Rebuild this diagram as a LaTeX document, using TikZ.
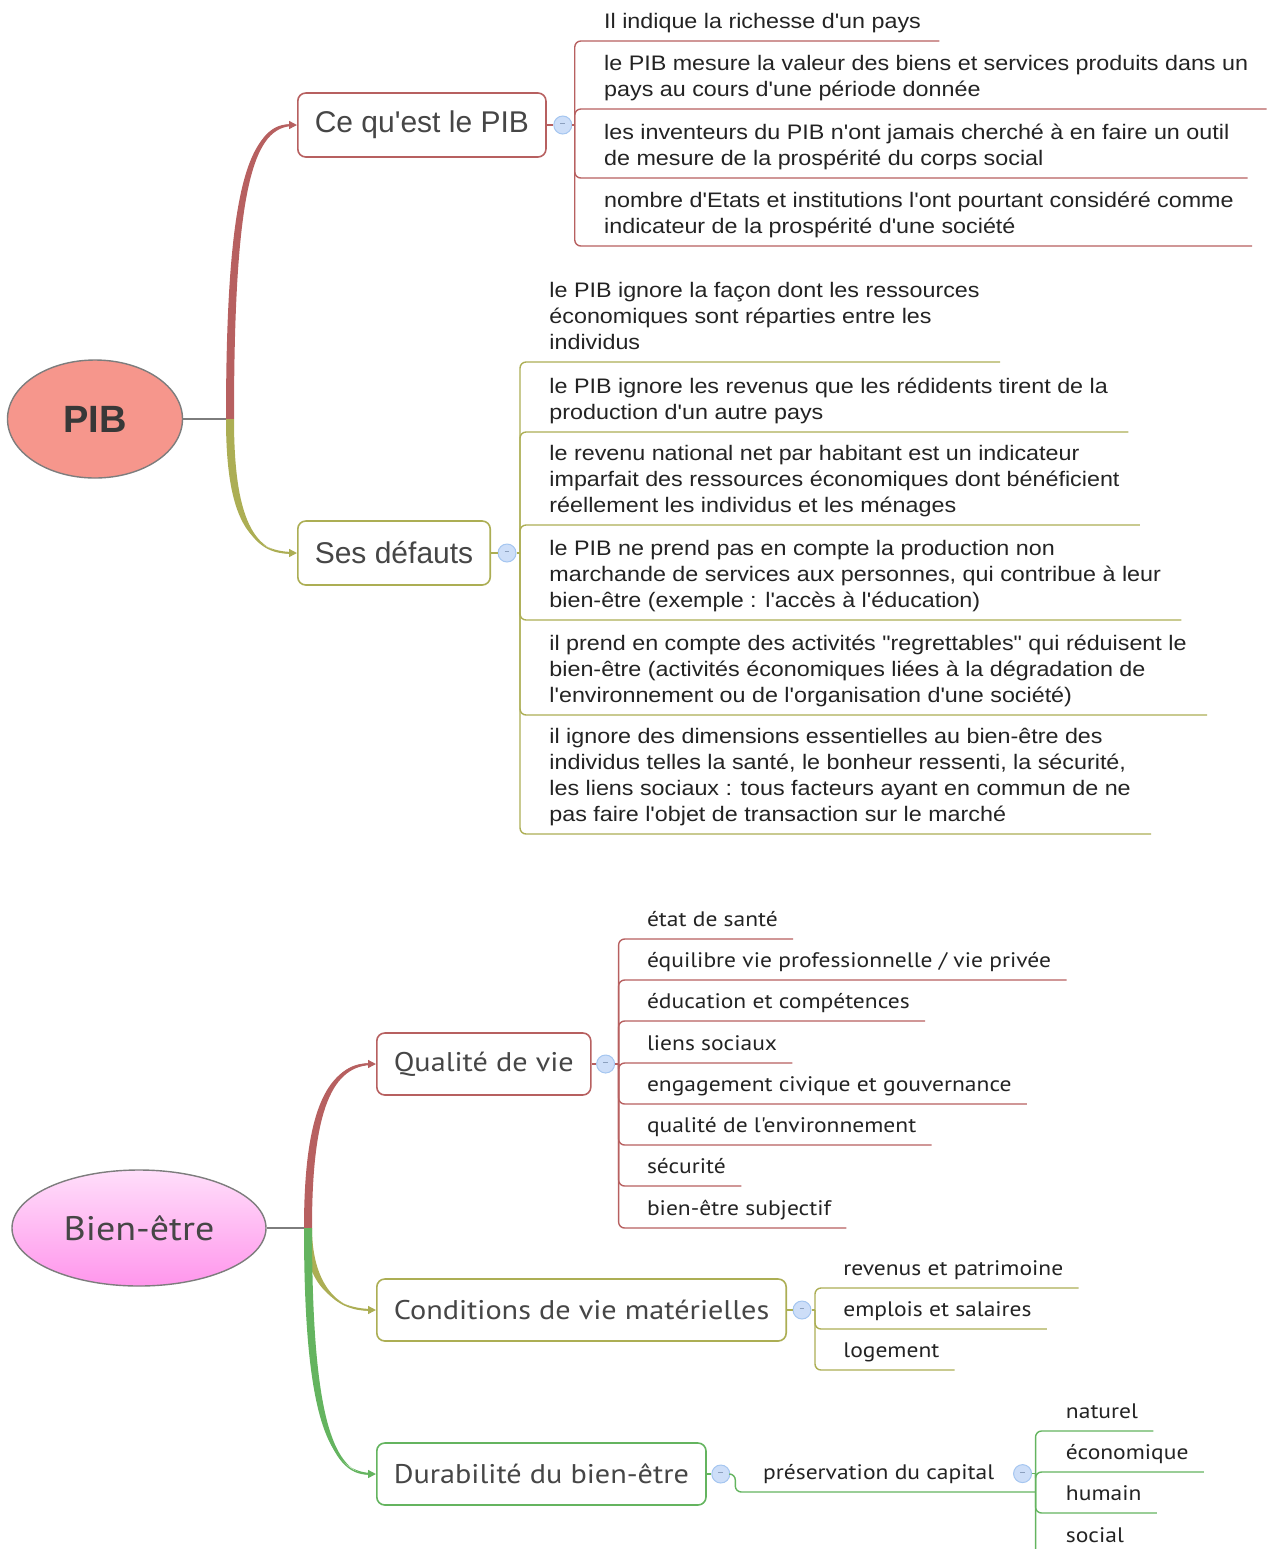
\documentclass[tikz,border=0pt]{standalone}
\usepackage{fontspec}
\setmainfont{Liberation Sans}
\newfontfamily\topicfont{Liberation Sans}
\newfontfamily\notefont[FakeStretch=1.11]{Liberation Sans}
\newfontfamily\leaffont[FakeStretch=1.12]{PT Sans}
\usetikzlibrary{shapes.geometric,arrows.meta,calc}

\definecolor{redb}{RGB}{183,96,96}
\definecolor{oliveb}{RGB}{172,174,84}
\definecolor{greenb}{RGB}{100,180,95}
\definecolor{togfill}{RGB}{205,222,248}
\definecolor{togline}{RGB}{165,198,240}
\definecolor{togdash}{RGB}{140,160,190}
\definecolor{inkgray}{RGB}{70,70,70}
\definecolor{notetext}{RGB}{35,35,35}
\definecolor{rootline}{RGB}{125,125,125}
\definecolor{pibfill}{RGB}{246,150,140}
\definecolor{befilltop}{RGB}{255,222,250}
\definecolor{befillbot}{RGB}{255,150,236}

\newcommand{\togdash}{\textcolor{togdash}{\rule[1.2pt]{2.4pt}{0.4pt}}}

% tapered branch from a hub to the west side of a topic
\newcommand{\mapbranch}[4]{%
  \fill[#1] ([shift={(-4,0)}]#2) .. controls +(0,#4) and +(-45,0) .. ([shift={(-3,-1)}]#3.west)
    -- ([shift={(-3,1)}]#3.west) .. controls +(-40,0) and +(0,#4) .. ([shift={(4,0)}]#2) -- cycle;
  \draw[#1,line width=0.7pt,-{Triangle[length=4pt,width=4pt]}] (#2) .. controls +(0,#4) and +(-45,0) .. (#3.west);}

\begin{document}
\begin{tikzpicture}[x=0.5pt,y=-0.5pt,
  rootnode/.style={ellipse,draw=rootline,line width=0.7pt,inner sep=0pt},
  topic/.style={draw,rounded corners=4pt,line width=0.8pt,fill=white,anchor=west,minimum height=32pt,inner xsep=8.5pt,text=inkgray},
  toggle/.style={circle,draw=togline,fill=togfill,line width=0.5pt,minimum size=9pt,inner sep=0pt},
  note/.style={anchor=south west,inner sep=0pt,align=left,text=notetext,font=\notefont\fontsize{10.5}{13}\selectfont,execute at end node=\strut},
  leaf/.style={anchor=south west,inner sep=0pt,text=notetext,font=\leaffont\fontsize{10.5}{12}\selectfont,execute at end node=\strut},
  link/.style={line width=0.7pt,rounded corners=3pt}]

\useasboundingbox (0,0) rectangle (1273,1549);

% ---------- PIB ----------
\node[rootnode,fill=pibfill,minimum width=87.5pt,minimum height=59pt,font=\topicfont\bfseries\fontsize{19}{19}\selectfont,text=inkgray!80!black] (pib) at (95,419) {PIB};
\coordinate (pib-hub) at (230,419);
\draw[rootline,line width=0.6pt] (pib) -- (pib-hub);

\node[topic,draw=redb,font=\topicfont\fontsize{15}{15}\selectfont] (cq) at (297,125) {Ce qu'est le PIB};
\node[topic,draw=oliveb,font=\topicfont\fontsize{15}{15}\selectfont] (sd) at (297,553) {Ses défauts};
\mapbranch{redb}{pib-hub}{cq}{-235}
\mapbranch{oliveb}{pib-hub}{sd}{100}

\node[toggle] (cq-tog) at ([shift={(16,0)}]cq.east) {\togdash};
\coordinate (cq-hub) at ([shift={(12,0)}]cq-tog.center);
\draw[redb,link] (cq) -- (cq-tog) -- (cq-hub);
\foreach \nm/\uy/\txt in {
  c1/41/{Il indique la richesse d'un pays},
  c2/109/{le PIB mesure la valeur des biens et services produits dans un\\pays au cours d'une période donnée},
  c3/178/{les inventeurs du PIB n'ont jamais cherché à en faire un outil\\de mesure de la prospérité du corps social},
  c4/246/{nombre d'Etats et institutions l'ont pourtant considéré comme\\indicateur de la prospérité d'une société}}{
  \node[note] (\nm) at ($(cq-hub |- 0,\uy)+(29,-4)$) {\txt};
  \draw[redb,link] (cq-hub) |- ([shift={(18,4)}]\nm.south east);
}

\node[toggle] (sd-tog) at ([shift={(16,0)}]sd.east) {\togdash};
\coordinate (sd-hub) at ([shift={(13,0)}]sd-tog.center);
\draw[oliveb,link] (sd) -- (sd-tog) -- (sd-hub);
\foreach \nm/\uy/\txt in {
  d1/362/{le PIB ignore la façon dont les ressources\\économiques  sont réparties entre les\\individus},
  d2/432/{le PIB ignore les revenus que les rédidents tirent de la\\production d'un autre pays},
  d3/525/{le revenu national net par habitant est un indicateur\\imparfait des ressources économiques dont bénéficient\\réellement les individus et les ménages},
  d4/620/{le PIB ne prend pas en compte la production non\\marchande de services aux personnes, qui contribue à leur\\bien-être (exemple : l'accès à l'éducation)},
  d5/715/{il prend en compte des activités "regrettables" qui réduisent le\\bien-être (activités économiques liées à la dégradation de\\l'environnement ou de l'organisation d'une société)},
  d6/834/{il ignore des dimensions essentielles au bien-être des\\individus telles la santé, le bonheur ressenti, la sécurité,\\les liens sociaux : tous facteurs ayant en commun de ne\\pas faire l'objet de transaction sur le marché}}{
  \node[note] (\nm) at ($(sd-hub |- 0,\uy)+(29,-4)$) {\txt};
  \draw[oliveb,link] (sd-hub) |- ([shift={(20,4)}]\nm.south east);
}

% ---------- Bien-etre ----------
\node[rootnode,top color=befilltop,bottom color=befillbot,minimum width=127pt,minimum height=58pt,font=\leaffont\fontsize{17}{17}\selectfont,text=inkgray] (be) at (139,1228) {Bien-être};
\coordinate (be-hub) at (308,1228);
\draw[rootline,line width=0.6pt] (be) -- (be-hub);

\node[topic,draw=redb,minimum height=31pt,font=\leaffont\fontsize{13.5}{14}\selectfont] (qv) at (376,1064) {Qualité de vie};
\node[topic,draw=oliveb,minimum height=31pt,font=\leaffont\fontsize{13.5}{14}\selectfont] (cm) at (376,1310) {Conditions de vie matérielles};
\node[topic,draw=greenb,minimum height=31pt,font=\leaffont\fontsize{13.5}{14}\selectfont] (db) at (376,1474) {Durabilité du bien-être};
\mapbranch{redb}{be-hub}{qv}{-120}
\mapbranch{oliveb}{be-hub}{cm}{50}
\mapbranch{greenb}{be-hub}{db}{190}

\node[toggle] (qv-tog) at ([shift={(14,0)}]qv.east) {\togdash};
\coordinate (qv-hub) at ([shift={(13,0)}]qv-tog.center);
\draw[redb,link] (qv) -- (qv-tog) -- (qv-hub);
\foreach \nm/\uy/\txt in {
  q1/939/{état de santé},
  q2/980/{équilibre vie professionnelle / vie privée},
  q3/1021/{éducation et compétences},
  q4/1063/{liens sociaux},
  q5/1104/{engagement civique et gouvernance},
  q6/1145/{qualité de l'environnement},
  q7/1186/{sécurité},
  q8/1228/{bien-être subjectif}}{
  \node[leaf] (\nm) at ($(qv-hub |- 0,\uy)+(28,-5)$) {\txt};
  \draw[redb,link] (qv-hub) |- ([shift={(15,5)}]\nm.south east);
}

\node[toggle] (cm-tog) at ([shift={(15,0)}]cm.east) {\togdash};
\coordinate (cm-hub) at ([shift={(13,0)}]cm-tog.center);
\draw[oliveb,link] (cm) -- (cm-tog) -- (cm-hub);
\foreach \nm/\uy/\txt in {
  m1/1288/{revenus et patrimoine},
  m2/1329/{emplois et salaires},
  m3/1370/{logement}}{
  \node[leaf] (\nm) at ($(cm-hub |- 0,\uy)+(28,-5)$) {\txt};
  \draw[oliveb,link] (cm-hub) |- ([shift={(15,5)}]\nm.south east);
}

\node[toggle] (db-tog) at ([shift={(14,0)}]db.east) {\togdash};
\draw[greenb,link] (db) -- (db-tog);
\node[leaf] (pc) at ($(db-tog)+(42,13)$) {préservation du capital};
\coordinate (pc-line) at ([shift={(0,5)}]pc.south west);
\node[toggle] (pc-tog) at ([shift={(28,-1)}]pc.east) {\togdash};
\coordinate (pc-hub) at ([shift={(13,0)}]pc-tog.center);
\draw[greenb,link] (db-tog.east) -- ++(5,0) |- (pc-hub |- pc-line);
\draw[greenb,link] (pc-tog) -- (pc-hub);
\foreach \nm/\uy/\txt in {
  k1/1431/{naturel},
  k2/1472/{économique},
  k3/1513/{humain},
  k4/1555/{social}}{
  \node[leaf] (\nm) at ($(pc-hub |- 0,\uy)+(30,-5)$) {\txt};
  \draw[greenb,link] (pc-hub) |- ([shift={(15,5)}]\nm.south east);
}

\end{tikzpicture}
\end{document}
